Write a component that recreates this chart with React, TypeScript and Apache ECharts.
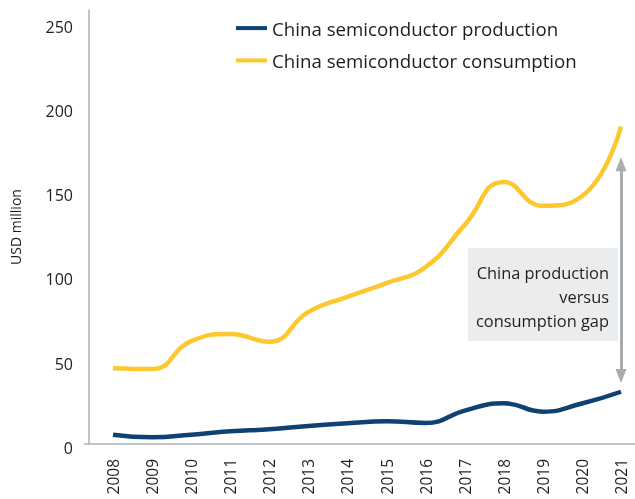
import React, { useEffect, useRef } from "react";
import * as echarts from "echarts";

const years = ["2008","2009","2010","2011","2012","2013","2014","2015","2016","2017","2018","2019","2020","2021"];
const production = [5.5, 4, 5.5, 7.5, 8.7, 10.7, 12.3, 13.5, 12.5, 19.8, 24.2, 19.2, 24, 31];
const consumption = [45, 44.5, 61, 65.3, 60.7, 78.4, 87.3, 95.5, 105, 130, 155.5, 141.3, 147, 188.4];
const yTicks = [0, 50, 100, 150, 200, 250];
const gapArrow = { category: "2021", top: 166, bottom: 40.3 };
const gapNote = ["China production", "versus", "consumption gap"];

const FONT = "'Open Sans', sans-serif";
const BLUE = "#0e4273";
const YELLOW = "#fdc82f";
const AXIS = "#a9b1ba";
const TEXT = "#1e1e1e";

export default function App() {
  const ref = useRef<HTMLDivElement>(null);
  useEffect(() => {
    if (!ref.current) return;
    const chart = echarts.init(ref.current, null, { renderer: "svg" });
    chart.setOption({
      animation: false,
      textStyle: { fontFamily: FONT },
      grid: { left: 108, right: 14, top: 10, bottom: 55 },
      legend: {
        orient: "vertical",
        left: 231,
        top: 13.6,
        itemWidth: 31,
        itemHeight: 4,
        itemGap: 13.3,
        icon: "rect",
        textStyle: { fontFamily: FONT, fontSize: 18.7, color: TEXT },
        data: ["China semiconductor production", "China semiconductor consumption"],
      },
      xAxis: {
        type: "category",
        data: years,
        boundaryGap: false,
        axisLine: { show: false },
        axisTick: { show: false },
        axisLabel: { rotate: 90, margin: 15, fontSize: 15.5, color: TEXT, fontFamily: FONT },
      },
      yAxis: {
        type: "value",
        min: 0,
        max: 257.5,
        interval: 50,
        offset: 24,
        name: "USD million",
        nameLocation: "middle",
        nameRotate: 90,
        nameGap: 67,
        nameTextStyle: { fontSize: 14, color: TEXT, fontFamily: FONT },
        axisLine: { show: true, lineStyle: { color: AXIS, width: 1.5 } },
        axisTick: { show: false },
        splitLine: { show: false },
        axisLabel: {
          margin: 16,
          fontSize: 16,
          color: TEXT,
          fontFamily: FONT,
          formatter: (v: number) => (yTicks.includes(v) ? "{t|" + v + "}" : ""),
          rich: {
            t: {
              fontSize: 16,
              color: TEXT,
              fontFamily: FONT,
              padding: [8, 0, 0, 0],
            },
          },
        },
      },
      series: [
        {
          name: "China semiconductor production",
          type: "line",
          data: production,
          smooth: 0.5,
          symbol: "none",
          lineStyle: { color: BLUE, width: 4.5 },
          itemStyle: { color: BLUE },
        },
        {
          name: "China semiconductor consumption",
          type: "line",
          data: consumption,
          smooth: 0.5,
          symbol: "none",
          lineStyle: { color: YELLOW, width: 4.5 },
          itemStyle: { color: YELLOW },
          markLine: {
            silent: true,
            symbol: ["triangle", "triangle"],
            symbolSize: [11, 14],
            label: { show: false },
            lineStyle: { color: "#a7acb1", width: 3, type: "solid" },
            data: [[
              { coord: [gapArrow.category, gapArrow.top] },
              { coord: [gapArrow.category, gapArrow.bottom] },
            ]],
          },
        },
      ],
      graphic: [
        {
          type: "line",
          shape: { x1: 84, y1: 444, x2: 635, y2: 444 },
          style: { stroke: AXIS, lineWidth: 1.5 },
          z: 1,
        },
        {
          type: "rect",
          shape: { x: 468, y: 248, width: 150, height: 93 },
          style: { fill: "#ebecee" },
          z: 0,
        },
        {
          type: "text",
          x: 609,
          y: 260,
          style: {
            text: gapNote.join("\n"),
            fontSize: 16.4,
            lineHeight: 24,
            fontFamily: FONT,
            fill: TEXT,
            align: "right",
            verticalAlign: "top",
          },
          z: 5,
        },
      ],
    });
    return () => chart.dispose();
  }, []);
  return (
    <div
      ref={ref}
      style={{ position: "fixed", left: 0, top: 0, width: 635, height: 499 }}
    />
  );
}
